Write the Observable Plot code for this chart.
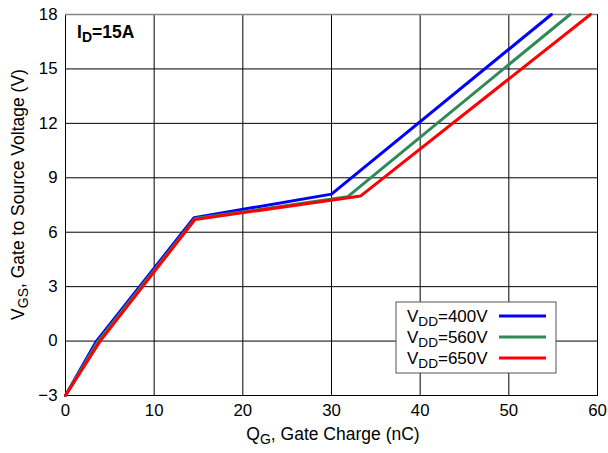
<!DOCTYPE html>
<html>
<head>
<meta charset="utf-8">
<script src="https://cdn.jsdelivr.net/npm/d3@7"></script>
<script src="https://cdn.jsdelivr.net/npm/@observablehq/plot@0.6"></script>
<style>
  html, body { margin: 0; padding: 0; background: #fff; }
  svg { font-family: "Liberation Sans", Arial, sans-serif; }
</style>
</head>
<body>
<div id="chart"></div>
<script>
// ---- data ----
const seriesNames = ["400V", "560V", "650V"];
const seriesColors = ["#0000ff", "#2e8b57", "#ff0000"];
const q400 = [0, 3.5, 14.5, 30.0, 54.8];
const v400 = [-3, 0, 6.8, 8.1, 18];
const q560 = [0, 3.7, 14.6, 31.8, 56.9];
const v560 = [-3, 0, 6.75, 7.95, 18];
const q650 = [0, 3.9, 14.6, 33.3, 59.2];
const v650 = [-3, 0, 6.7, 8.0, 18];
const xTicks = [0, 10, 20, 30, 40, 50, 60];
const yTicks = [-3, 0, 3, 6, 9, 12, 15, 18];

const qs = [q400, q560, q650];
const vs = [v400, v560, v650];
const rows = [];
seriesNames.forEach((s, i) => qs[i].forEach((q, j) => rows.push({series: s, q, v: vs[i][j]})));

const W = 608, H = 453;
const chart = Plot.plot({
  width: W, height: H,
  marginLeft: 65, marginRight: 11, marginTop: 14, marginBottom: 58,
  style: {fontFamily: "'Liberation Sans', Arial, sans-serif", fontSize: "16.8px", color: "#000", background: "#fff"},
  x: {domain: [0, 60], ticks: xTicks, tickSize: 0, tickPadding: 9, label: null},
  y: {domain: [-3, 18], ticks: yTicks, tickSize: 0, tickPadding: 8, label: null},
  color: {domain: seriesNames, range: seriesColors},
  marks: [
    Plot.gridX(xTicks, {stroke: "#000", strokeOpacity: 1}),
    Plot.gridY(yTicks, {stroke: "#000", strokeOpacity: 1}),
    Plot.frame({stroke: "#000"}),
    Plot.ruleY([18], {stroke: "#888", strokeWidth: 1.5}),
    Plot.line(rows, {x: "q", y: "v", z: "series", stroke: "series", strokeWidth: 3})
  ]
});
document.getElementById("chart").appendChild(chart);

const svg = d3.select(chart);
const sx = chart.scale("x"), sy = chart.scale("y");
const x0 = sx.apply(0), x1 = sx.apply(60), y0 = sy.apply(-3), y1 = sy.apply(18);

function subText(g, parts, attrs) {
  const t = g.append("text").attr("text-anchor", "start");
  Object.entries(attrs).forEach(([k, v]) => t.attr(k, v));
  parts.forEach(([s, sub], i) => {
    const ts = t.append("tspan").text(s);
    if (sub) ts.attr("font-size", "0.8em").attr("dy", "0.3em");
    else if (i > 0) ts.attr("dy", "-0.24em");
  });
  return t;
}

const g = svg.append("g").attr("font-size", 17.5).attr("fill", "#000");
// X axis label
subText(g, [["Q"], ["G", true], [", Gate Charge (nC)"]],
  {x: (x0 + x1) / 2 + 2, y: H - 13, "text-anchor": "middle"});
// Y axis label
subText(g, [["V"], ["GS", true], [", Gate to Source Voltage (V)"]],
  {transform: `translate(24,${(y0 + y1) / 2 - 10}) rotate(-90)`, "text-anchor": "middle"});
// I_D annotation
subText(g, [["I"], ["D", true], ["=15A"]],
  {x: x0 + 12, y: y1 + 24, "font-weight": "bold", "font-size": 17.5});

// Legend
const lx = x0 + 331, ly = y0 - 93, lw = 160, lh = 71;
const lg = svg.append("g");
lg.append("rect").attr("x", lx).attr("y", ly).attr("width", lw).attr("height", lh)
  .attr("fill", "#fff").attr("stroke", "#555").attr("stroke-width", 1);
seriesNames.forEach((s, i) => {
  const yy = ly + 14 + i * 21;
  subText(lg, [["V"], ["DD", true], ["=" + s]],
    {x: lx + 11, y: yy + 6, "font-size": 17});
  lg.append("line").attr("x1", lx + 103).attr("x2", lx + 150).attr("y1", yy).attr("y2", yy)
    .attr("stroke", seriesColors[i]).attr("stroke-width", 3);
});
</script>
</body>
</html>
